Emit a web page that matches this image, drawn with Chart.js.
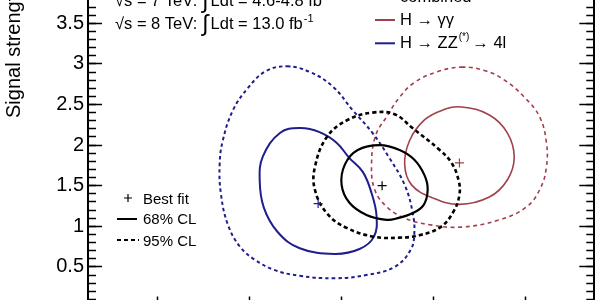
<!DOCTYPE html>
<html><head><meta charset="utf-8">
<script src="https://cdn.jsdelivr.net/npm/chart.js@4.4.1/dist/chart.umd.min.js"></script>
<style>
html,body{margin:0;padding:0;width:600px;height:300px;overflow:hidden;background:#fff;}
#wrap{position:absolute;left:0;top:-30px;width:600px;height:350px;}
</style></head><body>
<div id="wrap"><canvas id="c"></canvas></div>
<script>
// ---- data (x: m_H [GeV], y: signal strength mu) ----
const yTickLabels = [0.5, 1, 1.5, 2, 2.5, 3, 3.5, 4];
const xTickLabels = [120, 122, 124, 126, 128];

const zz95_mH = [122.82,123.32,123.82,124.25,124.68,125.05,125.38,125.55,125.59,125.51,125.16,124.55,123.86,123.10,122.56,122.12,121.80,121.54,121.39,121.36,121.43,121.65,121.97,122.36];
const zz95_mu = [2.97,2.90,2.72,2.43,2.15,1.84,1.51,1.18,0.92,0.71,0.50,0.40,0.36,0.39,0.46,0.59,0.75,1.02,1.39,1.76,2.06,2.43,2.70,2.91];

const zz68_mH = [123.10,123.53,123.90,124.18,124.47,124.66,124.77,124.71,124.40,123.86,123.10,122.62,122.32,122.23,122.30,122.67];
const zz68_mu = [2.21,2.16,2.03,1.84,1.67,1.41,1.12,0.87,0.72,0.66,0.73,0.93,1.23,1.57,1.86,2.15];

const comb95_mH = [124.68,125.16,125.55,126.14,126.40,126.55,126.57,126.44,126.16,125.70,125.27,124.73,124.12,123.69,123.43,123.43,123.69,124.14];
const comb95_mu = [2.40,2.38,2.21,1.94,1.78,1.57,1.39,1.18,0.99,0.89,0.86,0.87,0.98,1.16,1.45,1.73,2.10,2.31];

const comb68_mH = [124.84,125.27,125.59,125.81,125.88,125.79,125.55,125.23,124.99,124.55,124.18,124.01,124.08,124.36];
const comb68_mu = [2.00,1.94,1.82,1.63,1.45,1.26,1.16,1.10,1.08,1.14,1.29,1.51,1.76,1.94];

const gg95_mH = [126.61,127.11,127.55,127.98,128.31,128.46,128.46,128.33,128.03,127.44,126.61,125.92,125.38,124.99,124.73,124.66,124.75,124.99,125.27,125.59,126.07];
const gg95_mu = [2.96,2.92,2.80,2.59,2.35,2.03,1.73,1.47,1.24,1.08,0.99,1.02,1.10,1.24,1.45,1.76,2.12,2.35,2.59,2.77,2.90];

const gg68_mH = [126.61,127.22,127.61,127.76,127.61,127.22,126.57,125.99,125.53,125.38,125.49,125.81,126.20];
const gg68_mu = [2.47,2.37,2.15,1.85,1.57,1.36,1.27,1.35,1.51,1.76,2.06,2.31,2.43];

const bestFitNames = ['combined', 'H→γγ', 'H→ZZ'];
const bestFit_mH = [124.89, 126.57, 123.50];
const bestFit_mu = [1.50, 1.78, 1.28];

// ---- styles ----
const FONT = "'Liberation Sans', Arial, Helvetica, sans-serif";
const BLACK = '#000000';
const BLUE = '#1e1e8c';
const RED = '#a0404a';
const OY = 30; // canvas is shifted up by this many px

function pts(xs, ys) { return xs.map((x, i) => ({x: x, y: ys[i]})); }
function contour(label, xs, ys, color, width, dash) {
  return {label, data: pts(xs, ys), showLine: true, closedLoop: true, borderColor: color, borderWidth: width,
    borderDash: dash, pointRadius: 0, tension: 0.4, fill: false};
}
const colorsBF = [BLACK, RED, BLUE];

const datasets = [
  ...bestFit_mH.map((x, i) => ({label: 'Best fit ' + bestFitNames[i], data: [{x: x, y: bestFit_mu[i]}],
    showLine: false, pointStyle: 'cross', pointRadius: 4.5, borderColor: colorsBF[i], borderWidth: 1.2})),
  contour('combined 68%', comb68_mH, comb68_mu, BLACK, 2.2, []),
  contour('combined 95%', comb95_mH, comb95_mu, BLACK, 2.6, [4, 3]),
  contour('ZZ 68%', zz68_mH, zz68_mu, BLUE, 2, []),
  contour('ZZ 95%', zz95_mH, zz95_mu, BLUE, 2, [3.5, 3]),
  contour('γγ 68%', gg68_mH, gg68_mu, RED, 1.6, []),
  contour('γγ 95%', gg95_mH, gg95_mu, RED, 1.6, [4, 3.5]),
];

// make the contour lines closed, smooth loops (same mechanism Chart.js uses for radar lines)
const loopPlugin = {
  id: 'closedLoops',
  afterDatasetsUpdate(chart) {
    chart.data.datasets.forEach((ds, i) => {
      if (!ds.closedLoop) return;
      const line = chart.getDatasetMeta(i).dataset;
      if (!line) return;
      line._loop = true;
      line._fullLoop = true;
      line._pointsUpdated = false;
      delete line._segments;
      delete line._path;
    });
  }
};

const textPlugin = {
  id: 'texts',
  afterDraw(chart) {
    const ctx = chart.ctx;
    ctx.save();
    ctx.fillStyle = BLACK;
    ctx.textBaseline = 'alphabetic';
    ctx.textAlign = 'left';
    // y title
    ctx.save();
    ctx.translate(20, 118 + OY);
    ctx.rotate(-Math.PI / 2);
    ctx.font = '20px ' + FONT;
    ctx.fillText('Signal strength (μ)', 0, 0);
    ctx.restore();

    // lumi lines
    function lumi(x, y, e, l) {
      ctx.font = '16.5px ' + FONT;
      const t1 = '√s = ' + e + ' TeV:';
      ctx.fillText(t1, x, y);
      let cx = x + ctx.measureText(t1).width + 5;
      ctx.font = '23px ' + FONT;
      ctx.fillText('∫', cx, y + 2);
      cx += ctx.measureText('∫').width + 2;
      ctx.font = '16.5px ' + FONT;
      const t2 = 'Ldt = ' + l + ' fb';
      ctx.fillText(t2, cx, y);
      cx += ctx.measureText(t2).width + 1;
      ctx.font = '11px ' + FONT;
      ctx.fillText('-1', cx, y - 7);
    }
    lumi(115, 6 + OY, '7', '4.6-4.8');
    lumi(115, 29.3 + OY, '8', '13.0');

    // channel legend
    ctx.lineCap = 'butt';
    const rows = [[BLACK, 'combined', 2], [RED, 'H → γγ', 25], [BLUE, null, 48.3]];
    rows.forEach(r => {
      ctx.strokeStyle = r[0];
      ctx.lineWidth = 2;
      ctx.beginPath();
      ctx.moveTo(375, r[2] - 5 + OY);
      ctx.lineTo(395, r[2] - 5 + OY);
      ctx.stroke();
      ctx.font = '16.5px ' + FONT;
      if (r[1]) ctx.fillText(r[1], 400, r[2] + OY);
    });
    ctx.font = '16.5px ' + FONT;
    let zx = 400;
    const zy = 48.3 + OY;
    ctx.fillText('H → ZZ', zx, zy);
    zx += ctx.measureText('H → ZZ').width + 1;
    ctx.font = '10px ' + FONT;
    ctx.fillText('(*)', zx, zy - 8);
    zx += ctx.measureText('(*)').width + 3;
    ctx.font = '16.5px ' + FONT;
    ctx.fillText('→ 4l', zx, zy);

    // CL legend
    ctx.font = '15px ' + FONT;
    ctx.strokeStyle = BLACK;
    ctx.lineWidth = 1.2;
    ctx.beginPath();
    ctx.moveTo(124, 198 + OY); ctx.lineTo(132, 198 + OY);
    ctx.moveTo(128, 194 + OY); ctx.lineTo(128, 202 + OY);
    ctx.stroke();
    ctx.fillText('Best fit', 143, 203.5 + OY);
    ctx.lineWidth = 2;
    ctx.beginPath();
    ctx.moveTo(117, 219 + OY); ctx.lineTo(137, 219 + OY);
    ctx.stroke();
    ctx.fillText('68% CL', 143, 224.3 + OY);
    ctx.setLineDash([4, 3]);
    ctx.beginPath();
    ctx.moveTo(117, 240 + OY); ctx.lineTo(139, 240 + OY);
    ctx.stroke();
    ctx.setLineDash([]);
    ctx.fillText('95% CL', 143, 246 + OY);
    ctx.restore();
  }
};

function noPad(s) { s.paddingTop = 0; s.paddingBottom = 0; s.paddingLeft = 0; s.paddingRight = 0; }

function yAxis(pos, weight, step, tickLen, labels) {
  return {
    type: 'linear', position: pos, min: 0, max: 4, weight: weight,
    afterFit: s => { s.width = (pos === 'left' && labels) ? 88 : 0; noPad(s); },
    afterBuildTicks: labels ? (s => { s.ticks = yTickLabels.map(v => ({value: v})); }) : undefined,
    ticks: {display: labels, stepSize: step, includeBounds: false, padding: 18,
      font: {size: 20, family: FONT}, color: BLACK, callback: v => String(v)},
    grid: {display: true, drawOnChartArea: false, drawTicks: true, tickLength: tickLen,
      tickWidth: 1.5, tickColor: BLACK},
    border: {display: weight === 1, color: BLACK, width: 2}
  };
}

new Chart(document.getElementById('c'), {
  type: 'scatter',
  data: {datasets},
  options: {
    responsive: true, maintainAspectRatio: false, animation: false, events: [],
    layout: {padding: {left: 0, right: 5, top: 12.7, bottom: 12.5}},
    plugins: {legend: {display: false}, tooltip: {enabled: false}},
    scales: {
      x: {
        type: 'linear', position: 'bottom', min: 118.5, max: 129.5,
        afterFit: s => { s.height = 0; noPad(s); },
        afterBuildTicks: s => { s.ticks = xTickLabels.map(v => ({value: v})); },
        ticks: {display: true, padding: 24, font: {size: 20, family: FONT}, color: BLACK, callback: v => String(v)},
        grid: {display: true, drawOnChartArea: false, drawTicks: true, tickLength: -11, tickWidth: 1.5, tickColor: BLACK},
        border: {display: true, color: BLACK, width: 2}
      },
      y: yAxis('left', 1, 0.5, -14, true),
      yMinor: yAxis('left', 0, 0.1, -8, false),
      yR: yAxis('right', 1, 0.5, -15, false),
      yRMinor: yAxis('right', 0, 0.1, -8, false)
    }
  },
  plugins: [loopPlugin, textPlugin]
});
</script>
</body></html>
